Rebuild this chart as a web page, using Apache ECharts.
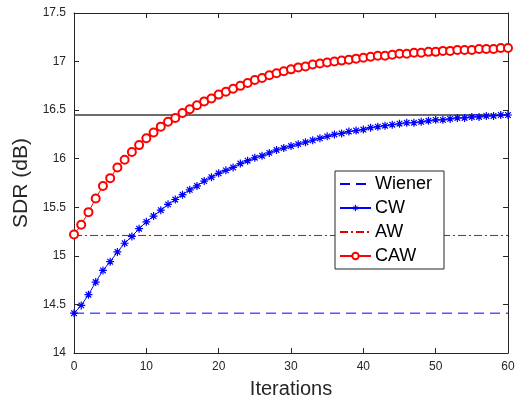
<!DOCTYPE html>
<html>
<head>
<meta charset="utf-8">
<script src="https://cdn.jsdelivr.net/npm/echarts@6/dist/echarts.min.js"></script>
<style>
  html, body { margin: 0; padding: 0; background: #fff; }
  #main { width: 518px; height: 400px; }
</style>
</head>
<body>
<div id="main"></div>
<script>
  // iterations 0..60
  var iterations = [];
  for (var i = 0; i <= 60; i++) iterations.push(i);

  // SDR values
  var cwValues = [
    14.41, 14.49, 14.60, 14.73, 14.85, 14.94, 15.04, 15.13, 15.20, 15.28,
    15.35, 15.41, 15.47, 15.53, 15.58, 15.63, 15.68, 15.72, 15.77, 15.81,
    15.85, 15.88, 15.91, 15.95, 15.98, 16.01, 16.03, 16.06, 16.09, 16.11,
    16.13, 16.15, 16.17, 16.19, 16.21, 16.23, 16.25, 16.26, 16.28, 16.29,
    16.30, 16.32, 16.33, 16.34, 16.35, 16.36, 16.37, 16.37, 16.38, 16.39,
    16.40, 16.40, 16.41, 16.42, 16.42, 16.43, 16.43, 16.44, 16.44, 16.45,
    16.45
  ];
  var cawValues = [
    15.22, 15.32, 15.45, 15.59, 15.72, 15.80, 15.91, 15.99, 16.07, 16.14,
    16.21, 16.27, 16.33, 16.38, 16.42, 16.47, 16.51, 16.55, 16.59, 16.62,
    16.66, 16.69, 16.72, 16.75, 16.78, 16.81, 16.83, 16.86, 16.88, 16.90,
    16.92, 16.94, 16.95, 16.97, 16.98, 16.99, 17.00, 17.01, 17.02, 17.03,
    17.04, 17.05, 17.06, 17.06, 17.07, 17.08, 17.08, 17.09, 17.09, 17.10,
    17.10, 17.11, 17.11, 17.12, 17.12, 17.12, 17.13, 17.13, 17.13, 17.14,
    17.14
  ];
  // constant reference levels
  var wienerLevel = 14.41;
  var awLevel = 15.21;
  var blackLevel = 16.45;
  var xRange = [0, 60];

  var legendNames = ['Wiener', 'CW', 'AW', 'CAW'];

  function pairs(vals) {
    return iterations.map(function (x, k) { return [x, vals[k]]; });
  }
  function flat(level) {
    return [[xRange[0], level], [xRange[1], level]];
  }

  var asterisk = 'path://M0,-5L0,5M-5,0L5,0M-3.5,-3.5L3.5,3.5M-3.5,3.5L3.5,-3.5';
  var axisColor = '#262626';
  var font = 'Liberation Sans, Arial, Helvetica, sans-serif';

  var tick = { show: true, inside: true, length: 5, lineStyle: { color: axisColor } };
  var line = { show: true, onZero: false, lineStyle: { color: axisColor } };

  var myChart = echarts.init(document.getElementById('main'));
  myChart.setOption({
    animation: false,
    grid: { left: 74, right: 10, top: 13, bottom: 47, containLabel: false, outerBoundsMode: 'none' },
    legend: {
      data: [
        { name: 'Wiener' },
        { name: 'CW', itemStyle: { borderColor: '#0000ff', borderWidth: 1 } },
        { name: 'AW' },
        { name: 'CAW' }
      ],
      orient: 'vertical',
      left: 335,
      top: 171,
      itemWidth: 31,
      itemHeight: 8,
      itemGap: 6,
      padding: [4, 12, 4, 4],
      backgroundColor: '#fff',
      borderColor: axisColor,
      borderWidth: 1,
      borderRadius: 0,
      textStyle: { fontSize: 18, color: '#000', fontFamily: font, padding: [0, 0, 0, -1] }
    },
    xAxis: [{
      type: 'value', min: 0, max: 60, interval: 10,
      name: 'Iterations', nameLocation: 'middle', nameGap: 26,
      nameTextStyle: { fontSize: 20, color: axisColor, fontFamily: font },
      axisLine: line, axisTick: tick,
      axisLabel: { fontSize: 12, color: axisColor, fontFamily: font, margin: 8 },
      splitLine: { show: false }
    }, {
      type: 'value', min: 0, max: 60, interval: 10, position: 'top',
      axisLine: line, axisTick: tick,
      axisLabel: { show: false },
      splitLine: { show: false }
    }],
    yAxis: [{
      type: 'value', min: 14, max: 17.5, interval: 0.5, position: 'left',
      name: 'SDR (dB)', nameLocation: 'middle', nameGap: 38,
      nameTextStyle: { fontSize: 21, color: axisColor, fontFamily: font },
      axisLine: line, axisTick: tick,
      axisLabel: { fontSize: 12, color: axisColor, fontFamily: font, margin: 8 },
      splitLine: { show: false }
    }, {
      type: 'value', min: 14, max: 17.5, interval: 0.5, position: 'right',
      axisLine: line, axisTick: tick,
      axisLabel: { show: false },
      splitLine: { show: false }
    }],
    series: [
      {
        name: 'ref', type: 'line', data: flat(blackLevel),
        symbol: 'none', lineStyle: { color: '#3a3a3a', width: 1.3 }, z: 1
      },
      {
        name: 'Wiener', type: 'line', data: flat(wienerLevel),
        symbol: 'none', itemStyle: { color: '#0000ff', opacity: 0 },
        lineStyle: { color: '#0000ff', width: 1, type: [10, 6] }
      },
      {
        name: 'CW', type: 'line', data: pairs(cwValues),
        symbol: asterisk, symbolSize: 8, showAllSymbol: true,
        itemStyle: { color: '#0000ff', borderColor: '#0000ff', borderWidth: 1.2 },
        lineStyle: { color: '#0000ff', width: 1 }
      },
      {
        name: 'AW', type: 'line', data: flat(awLevel),
        symbol: 'none', itemStyle: { color: '#e00000', opacity: 0 },
        lineStyle: { color: '#e00000', width: 1, type: [8, 3, 2, 3] }
      },
      {
        name: 'CAW', type: 'line', data: pairs(cawValues),
        symbol: 'emptyCircle', symbolSize: 8, showAllSymbol: true,
        itemStyle: { color: '#ff0000', borderColor: '#ff0000', borderWidth: 1 },
        lineStyle: { color: '#ff0000', width: 1 }
      }
    ]
  });
</script>
</body>
</html>
